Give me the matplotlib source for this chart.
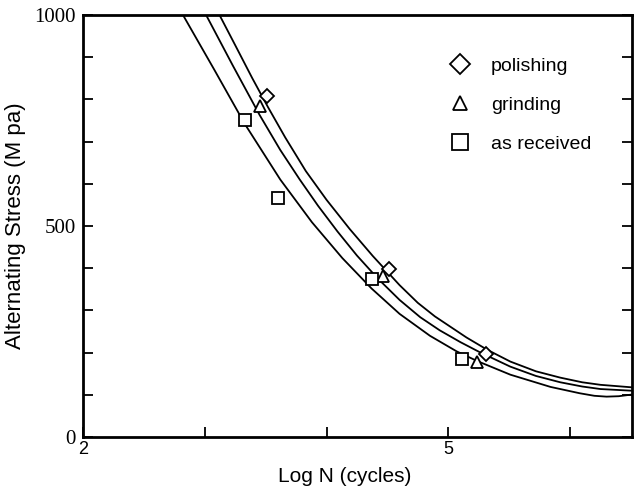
import matplotlib.pyplot as plt
from matplotlib.lines import Line2D

# measured points
pol_x = [3.51, 4.51, 5.31]
pol_y = [808, 398, 197]
grd_x = [3.45, 4.46, 5.24]
grd_y = [784, 382, 178]
rec_x = [3.33, 3.60, 4.37, 5.11]
rec_y = [751, 566, 374, 185]

# fitted curves
pol_cx = [3.12, 3.25, 3.39, 3.52, 3.66, 3.83, 4.00, 4.19, 4.38, 4.60, 4.75, 4.89,
          5.15, 5.32, 5.51, 5.72, 5.92, 6.10, 6.25, 6.51]
pol_cy = [1000, 928, 850, 781, 710, 630, 562, 493, 429, 360, 318, 286,
          236, 207, 179, 156, 141, 130, 124, 118]
grd_cx = [3.01, 3.23, 3.45, 3.62, 3.78, 3.93, 4.09, 4.25, 4.42, 4.60, 4.77, 4.93,
          5.10, 5.26, 5.51, 5.72, 5.92, 6.10, 6.25, 6.51]
grd_cy = [1000, 880, 763, 680, 610, 548, 487, 430, 376, 325, 284, 253,
          225, 201, 167, 145, 130, 120, 114, 110]
rec_cx = [2.82, 3.08, 3.33, 3.62, 3.88, 4.13, 4.37, 4.60, 4.85, 5.07, 5.24, 5.51,
          5.84, 6.08, 6.20, 6.30, 6.40, 6.51]
rec_cy = [1000, 869, 741, 610, 509, 424, 352, 292, 240, 203, 180, 148,
          119, 104, 98, 96, 97, 101]

xticks = [2, 3, 4, 5, 6]
xlabels = ["2", "", "", "5", ""]
yticks = list(range(0, 1001, 100))
ylabels = ["0", "", "", "", "", "500", "", "", "", "", "1000"]

sans = "Liberation Sans"
serif = "Liberation Serif"

fig = plt.figure(figsize=(6.34, 4.94), dpi=100)
ax = fig.add_axes([0.131, 0.115, 0.866, 0.855])

for cx, cy in [(pol_cx, pol_cy), (grd_cx, grd_cy), (rec_cx, rec_cy)]:
    ax.plot(cx, cy, color="black", lw=1.3, zorder=2)

mk = dict(color="black", markerfacecolor="white", markeredgewidth=1.3, linestyle="none", zorder=3)
ax.plot(pol_x, pol_y, marker="D", markersize=7.5, **mk)
ax.plot(grd_x, grd_y, marker="^", markersize=8, **mk)
ax.plot(rec_x, rec_y, marker="s", markersize=8, **mk)

ax.set_xlim(2, 6.51)
ax.set_ylim(0, 1000)
ax.set_xticks(xticks)
ax.set_xticklabels(xlabels, fontsize=13, family=sans)
ax.set_yticks(yticks)
ax.set_yticklabels(ylabels, fontsize=15, family=serif)
ax.tick_params(axis="both", direction="in", length=7, width=1.3, right=True, top=False)
ax.tick_params(axis="y", pad=5)
ax.tick_params(axis="x", pad=3)
for s in ax.spines.values():
    s.set_linewidth(2)

ax.set_xlabel("Log N (cycles)", fontsize=15, family=sans)
ax.xaxis.set_label_coords(0.477, -0.071)
ax.set_ylabel("Alternating Stress (M pa)", fontsize=16, family=sans, labelpad=6)

handles = [
    Line2D([], [], marker="D", markersize=10.5, **mk),
    Line2D([], [], marker="^", markersize=10, **mk),
    Line2D([], [], marker="s", markersize=12, **mk),
]
ax.legend(handles, ["polishing", "grinding", "as received"], loc="upper left",
          bbox_to_anchor=(0.668, 0.900), frameon=False, borderpad=0, borderaxespad=0,
          handlelength=1, handletextpad=1.1, labelspacing=1.1,
          prop={"family": sans, "size": 14})

fig.savefig("out.png", dpi=100)
